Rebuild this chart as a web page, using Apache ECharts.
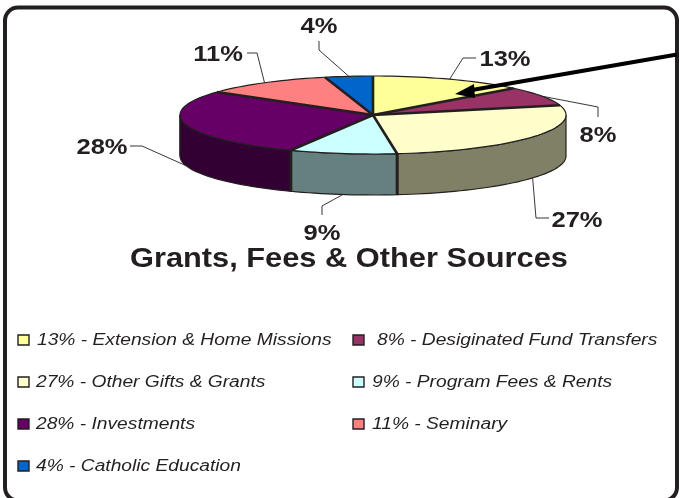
<!DOCTYPE html>
<html>
<head>
<meta charset="utf-8">
<style>
  html, body { margin: 0; padding: 0; background: #fff; }
  #main { width: 680px; height: 498px; }
</style>
<script src="https://cdn.jsdelivr.net/npm/echarts@6/dist/echarts.min.js"></script>
</head>
<body>
<div id="main"></div>
<script>
// data
var categories = ['Extension & Home Missions', 'Desiginated Fund Transfers', 'Other Gifts & Grants',
  'Program Fees & Rents', 'Investments', 'Seminary', 'Catholic Education'];
var shares = [13, 8, 27, 9, 28, 11, 4];
var chartTitle = 'Grants, Fees & Other Sources';

// look
var topColors = ['#FFFF99', '#993366', '#FFFFCC', '#CCFFFF', '#660066', '#FF8080', '#0066CC'];
var sideColors = ['#808066', '#4d1a33', '#808066', '#668080', '#330033', '#804040', '#003366'];
var ink = '#231f20';
var font = '"Liberation Sans", Arial, sans-serif';
var pie = { cx: 373, cy: 115, rx: 193, ry: 39, depth: 41 };

// elbow, end of the leader and label centre for each slice
var leaders = [
  { elbow: [463, 58], end: [476, 58], label: [505, 60] },
  { elbow: [598, 107], end: [598, 117], label: [598, 136] },
  { elbow: [536, 218], end: [549, 218], label: [577, 221] },
  { elbow: [322, 206], end: [322, 215], label: [322, 234] },
  { elbow: [142, 146], end: [130, 146], label: [102, 148] },
  { elbow: [257, 53], end: [247, 53], label: [218, 55] },
  { elbow: [319, 50], end: [319, 41], label: [319, 27] }
];
// legend text start, the right column and the odd " 8%" are a bit off in the original
var legendTextX = [37, 377, 36, 372, 36, 372, 36];
var legendRowY = [340, 382, 424, 466];
var legendBoxX = [18, 353];

var total = shares.reduce(function (a, b) { return a + b; }, 0);
var starts = [];
shares.reduce(function (sum, v, i) { starts[i] = sum; return sum + v; }, 0);

function rim(deg, drop) {
  var t = deg * Math.PI / 180;
  return [pie.cx + pie.rx * Math.sin(t), pie.cy - pie.ry * Math.cos(t) + (drop || 0)];
}
function arc(a0, a1, drop) {
  var pts = [];
  var n = Math.max(2, Math.ceil((a1 - a0) / 2));
  for (var i = 0; i <= n; i++) {
    pts.push(rim(a0 + (a1 - a0) * i / n, drop));
  }
  return pts;
}
function sliceAngles(i, value) {
  var a0 = starts[i] / total * 360;
  return [a0, a0 + value / total * 360];
}

function renderSide(params, api) {
  var i = params.dataIndex;
  var a = sliceAngles(i, api.value(0));
  var a0 = Math.max(a[0], 90), a1 = Math.min(a[1], 270);
  if (a1 <= a0) return { type: 'group', children: [] };
  var upper = arc(a0, a1, 0);
  var lower = arc(a0, a1, pie.depth).reverse();
  var kids = [{
    type: 'polygon',
    shape: { points: upper.concat(lower) },
    style: { fill: sideColors[i], stroke: ink, lineWidth: 1.2 }
  }];
  // heavy vertical edge where a slice ends inside the front
  if (a[1] < 270) {
    kids.push({
      type: 'polyline',
      shape: { points: [rim(a1, 0), rim(a1, pie.depth)] },
      style: { stroke: ink, lineWidth: 3, fill: null },
      z2: 5
    });
  } else {
    kids.push({
      type: 'polyline',
      shape: { points: [rim(270, 0), rim(270, pie.depth)] },
      style: { stroke: ink, lineWidth: 1.2, fill: null },
      z2: 5
    });
  }
  return { type: 'group', children: kids };
}

function renderTop(params, api) {
  var i = params.dataIndex;
  var a = sliceAngles(i, api.value(0));
  var edge = arc(a[0], a[1], 0);
  return {
    type: 'group',
    children: [{
      type: 'polygon',
      shape: { points: [[pie.cx, pie.cy]].concat(edge) },
      style: { fill: topColors[i] }
    }, {
      type: 'polyline',
      shape: { points: edge },
      style: { stroke: ink, lineWidth: 1.2, fill: null },
      z2: 5
    }, {
      type: 'polyline',
      shape: { points: [rim(a[0], 0), [pie.cx, pie.cy]] },
      style: { stroke: ink, lineWidth: 2.6, fill: null },
      z2: 6
    }]
  };
}

function renderLabel(params, api) {
  var i = params.dataIndex;
  var a = sliceAngles(i, api.value(0));
  var mid = (a[0] + a[1]) / 2;
  var onSide = mid > 110 && mid < 270;
  var start = rim(mid, onSide ? pie.depth : 0);
  var l = leaders[i];
  return {
    type: 'group',
    children: [{
      type: 'polyline',
      shape: { points: [start, l.elbow, l.end] },
      style: { stroke: ink, lineWidth: 0.9, fill: null }
    }, {
      // the original type is stretched sideways
      type: 'text',
      x: l.label[0],
      y: l.label[1],
      scaleX: 1.16,
      style: {
        text: api.value(0) + '%',
        font: 'bold 22px ' + font,
        fill: ink,
        align: 'center',
        verticalAlign: 'middle'
      }
    }]
  };
}

function renderLegend(params, api) {
  var i = params.dataIndex;
  var y = legendRowY[Math.floor(i / 2)];
  return {
    type: 'group',
    children: [{
      type: 'rect',
      shape: { x: legendBoxX[i % 2], y: y - 5, width: 11, height: 10 },
      style: { fill: topColors[i], stroke: ink, lineWidth: 1.4 }
    }, {
      type: 'text',
      x: legendTextX[i],
      y: y + 1,
      scaleX: 1.2,
      style: {
        text: api.value(0) + '% - ' + categories[i],
        font: 'italic 16px ' + font,
        fill: ink,
        align: 'left',
        verticalAlign: 'middle'
      }
    }]
  };
}

function layer(name, render, z) {
  return {
    name: name,
    type: 'custom',
    coordinateSystem: 'none',
    renderItem: render,
    silent: true,
    z: z,
    data: shares.map(function (v) { return [v]; })
  };
}

var option = {
  backgroundColor: '#fff',
  animation: false,
  series: [
    layer('side', renderSide, 2),
    layer('top', renderTop, 3),
    layer('labels', renderLabel, 4),
    layer('legend', renderLegend, 4)
  ],
  graphic: [
    // frame, bottom edge runs off the page like the original
    {
      type: 'rect',
      z: 1,
      shape: { x: 5, y: 7.5, width: 672, height: 493, r: 13 },
      style: { fill: '#fff', stroke: ink, lineWidth: 4 }
    },
    // title, a text element so it can be stretched like the original
    {
      type: 'text',
      z: 5,
      x: 130,
      y: 260,
      scaleX: 1.14,
      style: {
        text: chartTitle,
        font: 'bold 27px ' + font,
        fill: ink,
        align: 'left',
        verticalAlign: 'middle'
      }
    },
    // callout arrow
    {
      type: 'polyline',
      z: 10,
      shape: { points: [[677, 54.5], [472, 90]] },
      style: { stroke: '#000', lineWidth: 4, fill: null }
    },
    {
      type: 'polygon',
      z: 10,
      shape: { points: [[455, 94], [474, 84], [475, 98]] },
      style: { fill: '#000' }
    }
  ]
};

var chart = echarts.init(document.getElementById('main'), null, { renderer: 'canvas' });
chart.setOption(option);
</script>
</body>
</html>
